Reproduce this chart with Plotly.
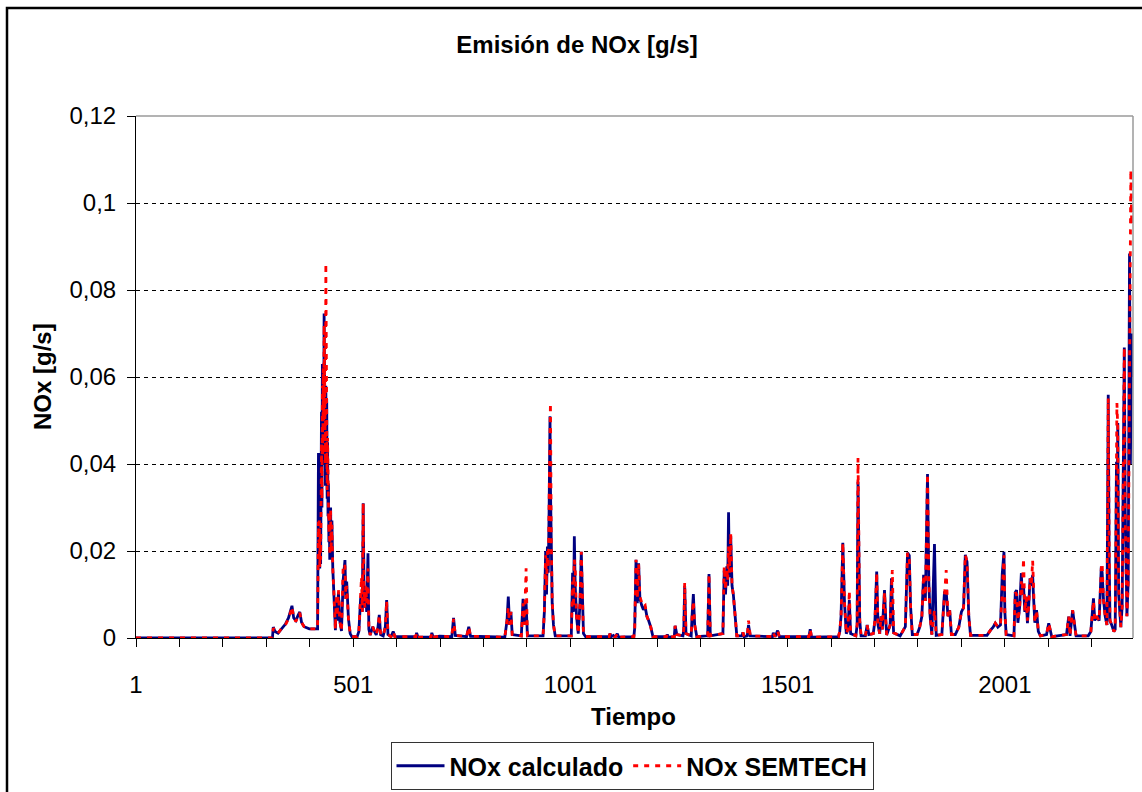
import plotly.graph_objects as go

# Emisión de NOx: valores muestreados (tiempo en s, NOx en g/s)
tiempo = [
    1, 315, 317, 321, 328, 336, 345, 352, 357, 360, 364, 369, 374, 378, 382, 388, 400, 419,
    421, 422, 423, 424, 425, 426, 427, 428, 429, 430, 431, 432, 433, 434, 435, 436, 437, 438,
    439, 440, 441, 442, 443, 444, 445, 446, 447, 448, 449, 450, 452, 454, 456, 458, 460, 462,
    464, 467, 470, 474, 478, 482, 484, 486, 490, 494, 498, 510, 514, 518, 520, 522, 524, 526,
    528, 530, 532, 535, 537, 540, 546, 550, 554, 558, 561, 564, 570, 575, 578, 581, 588, 593,
    597, 645, 647, 650, 680, 682, 685, 700, 728, 732, 736, 762, 767, 771, 850, 855, 858, 861,
    864, 867, 888, 892, 895, 899, 902, 938, 941, 944, 946, 948, 950, 952, 954, 955, 957, 959,
    962, 966, 1003, 1006, 1008, 1010, 1012, 1015, 1019, 1023, 1026, 1029, 1031, 1036, 1090,
    1092, 1095, 1100, 1104, 1109, 1112, 1147, 1149, 1152, 1155, 1158, 1161, 1165, 1169, 1173,
    1177, 1181, 1186, 1191, 1222, 1224, 1226, 1240, 1242, 1246, 1260, 1262, 1264, 1267, 1279,
    1281, 1284, 1287, 1292, 1317, 1320, 1323, 1352, 1355, 1358, 1361, 1363, 1365, 1367, 1370,
    1373, 1376, 1380, 1384, 1396, 1398, 1401, 1408, 1411, 1415, 1466, 1468, 1472, 1478, 1482,
    1550, 1553, 1556, 1618, 1621, 1624, 1628, 1632, 1636, 1640, 1643, 1646, 1658, 1661, 1663,
    1665, 1667, 1670, 1680, 1684, 1688, 1698, 1702, 1706, 1709, 1713, 1716, 1719, 1724, 1727,
    1729, 1737, 1740, 1742, 1745, 1760, 1772, 1777, 1781, 1784, 1788, 1799, 1805, 1810, 1814,
    1818, 1823, 1826, 1829, 1833, 1839, 1843, 1856, 1862, 1866, 1870, 1874, 1878, 1887, 1895,
    1901, 1906, 1910, 1914, 1918, 1922, 1960, 1968, 1974, 1979, 1985, 1991, 1995, 1999, 2001,
    2004, 2022, 2025, 2028, 2031, 2035, 2039, 2041, 2044, 2047, 2050, 2053, 2056, 2059, 2062,
    2065, 2067, 2070, 2074, 2078, 2083, 2097, 2102, 2105, 2109, 2143, 2148, 2151, 2157, 2161,
    2165, 2193, 2199, 2205, 2208, 2212, 2218, 2223, 2225, 2228, 2232, 2236, 2239, 2241, 2243,
    2247, 2252, 2255, 2258, 2259, 2261, 2263, 2265, 2268, 2271, 2273, 2276, 2278, 2280, 2282,
    2285, 2288, 2290, 2291, 2293, 2295,
]

nox_calculado = [
    0, 0, 0.0025, 0.0015, 0.0011, 0.0022, 0.0032, 0.0046, 0.0062, 0.0074, 0.0046, 0.004, 0.0052, 0.006, 0.0036, 0.0026, 0.0021, 0.0021,
    0.0425, 0.018, 0.025, 0.016, 0.027, 0.017, 0.033, 0.052, 0.030, 0.063, 0.040, 0.060, 0.045, 0.0746, 0.050, 0.062, 0.035, 0.058,
    0.040, 0.055, 0.032, 0.045, 0.028, 0.0355, 0.022, 0.028, 0.018, 0.026, 0.030, 0.019, 0.027, 0.016, 0.012, 0.006, 0.0018, 0.009,
    0.004, 0.0105, 0.004, 0.0016, 0.0135, 0.0179, 0.009, 0.013, 0.0045, 0.001, 0.0003, 0.0003, 0.0015, 0.009, 0.010, 0.006, 0.031, 0.009,
    0.007, 0.011, 0.006, 0.0195, 0.002, 0.0007, 0.0026, 0.0015, 0.0007, 0.0025, 0.0053, 0.0008, 0.0005, 0.0026, 0.0087, 0.0008, 0.0003, 0.0015,
    0.0003, 0.0003, 0.0012, 0.0002, 0.0002, 0.0012, 0.0002, 0.0004, 0.0003, 0.0046, 0.0006, 0.0003, 0.0026, 0.0004, 0.0002, 0.004, 0.0095, 0.003,
    0.006, 0.0008, 0.0005, 0.009, 0.003, 0.008, 0.0005, 0.0005, 0.006, 0.020, 0.010, 0.021, 0.015, 0.030, 0.051, 0.035, 0.020, 0.008,
    0.003, 0.0005, 0.0005, 0.015, 0.006, 0.0234, 0.012, 0.005, 0.001, 0.008, 0.0198, 0.006, 0.001, 0.0003, 0.0003,
    0.001, 0.0003, 0.0006, 0.0002, 0.001, 0.0002, 0.0003, 0.0023, 0.018, 0.008, 0.0172, 0.009, 0.0075, 0.0065, 0.0072,
    0.005, 0.004, 0.0025, 0.0003, 0.0003, 0.0008, 0.0002, 0.0003, 0.0028, 0.0008, 0.0005, 0.002, 0.012, 0.001, 0.0005,
    0.005, 0.0101, 0.003, 0.0003, 0.0005, 0.0147, 0.0005, 0.001, 0.0155, 0.010, 0.0165, 0.012, 0.0289, 0.014, 0.0235,
    0.012, 0.010, 0.004, 0.0005, 0.0005, 0.0013, 0.0003, 0.0005, 0.003, 0.0005, 0.0003, 0.0012, 0.0003, 0.0017, 0.0003,
    0.0003, 0.002, 0.0002, 0.0003, 0.0015, 0.005, 0.0219, 0.008, 0.001, 0.002, 0.0087, 0.001, 0.0005, 0.003, 0.0359,
    0.020, 0.004, 0.0005, 0.0005, 0.003, 0.0008, 0.001, 0.004, 0.0153, 0.003, 0.001, 0.005, 0.002, 0.011, 0.004,
    0.0007, 0.003, 0.0137, 0.008, 0.0012, 0.0005, 0.0026, 0.0196, 0.019, 0.0072, 0.0008, 0.0008, 0.0025, 0.005, 0.0145,
    0.0085, 0.0377, 0.013, 0.005, 0.0008, 0.0216, 0.0006, 0.0008, 0.0105, 0.0107, 0.005, 0.0064, 0.0008, 0.0008, 0.0025,
    0.006, 0.007, 0.0191, 0.0175, 0.005, 0.0006, 0.0006, 0.0018, 0.0025, 0.0034, 0.0025, 0.003, 0.0147, 0.0198, 0.006,
    0.0008, 0.0005, 0.0105, 0.011, 0.0035, 0.007, 0.0149, 0.010, 0.012, 0.006, 0.0095, 0.0034, 0.0075, 0.0137, 0.012,
    0.0145, 0.0095, 0.0035, 0.0064, 0.0015, 0.0005, 0.0008, 0.0034, 0.0018, 0.0003, 0.0008, 0.0049, 0.0005, 0.0064, 0.0034,
    0.0005, 0.0005, 0.0015, 0.0091, 0.004, 0.005, 0.004, 0.0164, 0.015, 0.009, 0.005, 0.003, 0.0559, 0.020, 0.004,
    0.003, 0.0015, 0.002, 0.0405, 0.020, 0.0494, 0.010, 0.0072, 0.0025, 0.0072, 0.0371, 0.0668, 0.030, 0.0087, 0.005,
    0.013, 0.0884, 0.040, 0.050, 0.070, 0.060,
]

nox_semtech = [
    0, 0, 0.0023, 0.0015, 0.0011, 0.0022, 0.003, 0.0044, 0.006, 0.0072, 0.0046, 0.0038, 0.005, 0.0058, 0.0036, 0.0026, 0.0021, 0.0021,
    0.0267, 0.022, 0.027, 0.016, 0.024, 0.018, 0.030, 0.045, 0.032, 0.058, 0.042, 0.062, 0.050, 0.072, 0.055, 0.066, 0.040, 0.0861,
    0.048, 0.060, 0.034, 0.046, 0.030, 0.034, 0.024, 0.029, 0.019, 0.027, 0.0295, 0.020, 0.026, 0.016, 0.0126, 0.007, 0.002, 0.010,
    0.005, 0.011, 0.004, 0.0016, 0.017, 0.0165, 0.009, 0.012, 0.0045, 0.001, 0.0003, 0.0003, 0.0015, 0.008, 0.014, 0.006, 0.031, 0.010,
    0.007, 0.012, 0.008, 0.016, 0.003, 0.0007, 0.0026, 0.0015, 0.0007, 0.0025, 0.0053, 0.0008, 0.0005, 0.0025, 0.0085, 0.0008, 0.0003, 0.0015,
    0.0003, 0.0003, 0.0012, 0.0002, 0.0002, 0.0012, 0.0002, 0.0004, 0.0003, 0.0044, 0.0006, 0.0003, 0.0026, 0.0004, 0.0002, 0.004, 0.007, 0.003,
    0.006, 0.0008, 0.0005, 0.008, 0.003, 0.016, 0.0005, 0.0005, 0.006, 0.019, 0.012, 0.020, 0.016, 0.032, 0.046, 0.054, 0.022, 0.009,
    0.003, 0.0005, 0.0005, 0.013, 0.007, 0.018, 0.016, 0.005, 0.001, 0.008, 0.0198, 0.006, 0.001, 0.0003, 0.0003,
    0.001, 0.0003, 0.0006, 0.0002, 0.001, 0.0002, 0.0003, 0.0023, 0.018, 0.009, 0.017, 0.0095, 0.0082, 0.0072, 0.0075,
    0.005, 0.004, 0.0025, 0.0003, 0.0003, 0.0008, 0.0002, 0.0003, 0.0028, 0.0008, 0.0005, 0.002, 0.0127, 0.001, 0.0005,
    0.005, 0.0085, 0.003, 0.0003, 0.0005, 0.0147, 0.0005, 0.001, 0.0164, 0.011, 0.016, 0.013, 0.021, 0.015, 0.024,
    0.012, 0.010, 0.004, 0.0005, 0.0005, 0.0013, 0.0003, 0.0005, 0.004, 0.0005, 0.0003, 0.0012, 0.0003, 0.0017, 0.0003,
    0.0003, 0.002, 0.0002, 0.0003, 0.0015, 0.005, 0.0219, 0.008, 0.001, 0.002, 0.0109, 0.001, 0.0005, 0.003, 0.0414,
    0.022, 0.004, 0.0005, 0.0005, 0.003, 0.0008, 0.001, 0.004, 0.015, 0.003, 0.001, 0.005, 0.002, 0.0105, 0.004,
    0.0007, 0.003, 0.012, 0.0156, 0.0012, 0.0005, 0.0026, 0.0196, 0.018, 0.0072, 0.0008, 0.0008, 0.0025, 0.005, 0.0145,
    0.0085, 0.0377, 0.013, 0.005, 0.0008, 0.0064, 0.0006, 0.0008, 0.010, 0.0156, 0.005, 0.0064, 0.0008, 0.0008, 0.0025,
    0.006, 0.007, 0.0191, 0.0175, 0.005, 0.0006, 0.0006, 0.0018, 0.0025, 0.0034, 0.0025, 0.003, 0.012, 0.019, 0.006,
    0.0008, 0.0005, 0.0105, 0.010, 0.004, 0.007, 0.013, 0.010, 0.0183, 0.006, 0.0095, 0.004, 0.0075, 0.0137, 0.012,
    0.0178, 0.0095, 0.0035, 0.0064, 0.0015, 0.0005, 0.0008, 0.0034, 0.0018, 0.0003, 0.0008, 0.0049, 0.0005, 0.0064, 0.0034,
    0.0005, 0.0005, 0.0015, 0.0085, 0.004, 0.005, 0.004, 0.016, 0.0172, 0.009, 0.005, 0.003, 0.0551, 0.022, 0.004,
    0.003, 0.0015, 0.002, 0.040, 0.054, 0.048, 0.012, 0.0072, 0.0025, 0.0072, 0.035, 0.0668, 0.028, 0.008, 0.005,
    0.013, 0.070, 0.090, 0.1076, 0.095, 0.100,
]

# Eje X: marcas cada 100 muestras, etiqueta cada 500
x_tick_vals = [1, 101, 201, 301, 401, 501, 601, 701, 801, 901, 1001, 1101,
               1201, 1301, 1401, 1501, 1601, 1701, 1801, 1901, 2001, 2101, 2201]
x_tick_text = ["1", "", "", "", "", "501", "", "", "", "", "1001", "",
               "", "", "", "1501", "", "", "", "", "2001", "", ""]

# Eje Y con coma decimal
y_tick_vals = [0, 0.02, 0.04, 0.06, 0.08, 0.10, 0.12]
y_tick_text = ["0", "0,02", "0,04", "0,06", "0,08", "0,1", "0,12"]

FONT = "Liberation Sans, Arial, sans-serif"
FS = 24
W, H = 1142, 792
ML, MR, MT, MB = 136, 9, 116, 154
PW, PH = W - ML - MR, H - MT - MB


def px_x(p):
    return (p - ML) / PW


def px_y(p):
    return (H - MB - p) / PH


fig = go.Figure()
fig.add_trace(go.Scatter(
    x=tiempo, y=nox_calculado, mode="lines", name="NOx calculado",
    line=dict(color="#000080", width=2.8),
))
fig.add_trace(go.Scatter(
    x=tiempo, y=nox_semtech, mode="lines", name="NOx SEMTECH",
    line=dict(color="#FF0000", width=2.8, dash="5px,6px"),
))

fig.update_layout(
    width=W, height=H,
    margin=dict(l=ML, r=MR, t=MT, b=MB, autoexpand=False),
    paper_bgcolor="white", plot_bgcolor="white",
    font=dict(family=FONT, color="black", size=FS),
    title=dict(text="<b>Emisión de NOx [g/s]</b>", x=577 / W, xanchor="center",
               y=1 - 45 / H, yanchor="middle", font=dict(size=FS, family=FONT)),
    showlegend=True,
    legend=dict(orientation="h", x=px_x(632), xanchor="center",
                y=px_y(790), yanchor="bottom",
                bgcolor="white", bordercolor="#333333", borderwidth=1,
                font=dict(size=25, family=FONT, weight="bold"), itemwidth=48,
                tracegroupgap=0),
    xaxis=dict(range=[1, 2296], tickmode="array", tickvals=x_tick_vals, ticktext=x_tick_text,
               ticks="outside", ticklen=8, tickcolor="black", tickwidth=1,
               showline=True, linecolor="black", linewidth=1,
               showgrid=False, zeroline=False, ticklabelstandoff=17,
               automargin=False, tickfont=dict(size=FS, family=FONT)),
    yaxis=dict(range=[0, 0.12], tickmode="array", tickvals=y_tick_vals, ticktext=y_tick_text,
               ticks="outside", ticklen=8, tickcolor="black", tickwidth=1,
               showline=True, linecolor="black", linewidth=1,
               showgrid=True, gridcolor="black", gridwidth=1, griddash="4px,4px",
               zeroline=False, ticklabelstandoff=6,
               automargin=False, tickfont=dict(size=FS, family=FONT)),
    annotations=[
        dict(text="<b>Tiempo</b>", xref="paper", yref="paper", x=px_x(633), y=px_y(716),
             xanchor="center", yanchor="middle", showarrow=False, font=dict(size=FS, family=FONT)),
        dict(text="<b>NOx [g/s]</b>", xref="paper", yref="paper", x=px_x(42), y=px_y(377),
             xanchor="center", yanchor="middle", textangle=-90, showarrow=False,
             font=dict(size=FS, family=FONT)),
    ],
    shapes=[
        # borde gris superior y derecho del área de trazado
        dict(type="line", xref="paper", yref="paper", x0=0, x1=1, y0=1, y1=1,
             line=dict(color="#9a9a9a", width=1.5), layer="above"),
        dict(type="line", xref="paper", yref="paper", x0=1, x1=1, y0=0, y1=1,
             line=dict(color="#9a9a9a", width=1.5), layer="above"),
        # marco exterior del gráfico
        dict(type="rect", xref="paper", yref="paper", x0=px_x(7), x1=px_x(1160),
             y0=px_y(810), y1=px_y(8), line=dict(color="black", width=2.5),
             fillcolor="rgba(0,0,0,0)", layer="above"),
    ],
)

fig.write_html("out.html")
